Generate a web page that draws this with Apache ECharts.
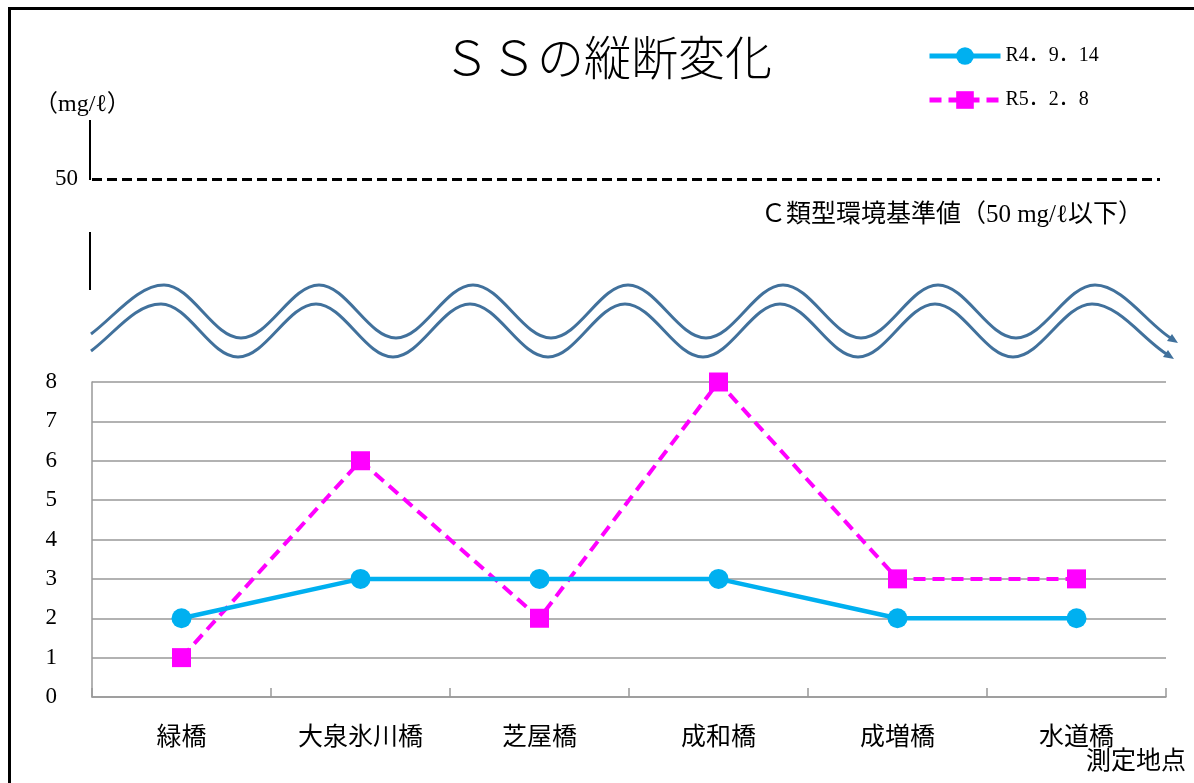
<!DOCTYPE html>
<html><head><meta charset="utf-8">
<script src="https://cdn.jsdelivr.net/npm/echarts@6/dist/echarts.min.js"></script>
<style>html,body{margin:0;padding:0;background:#fff}#c{width:1194px;height:783px}</style>
</head><body><div id="c"></div>
<script>
// ---- data ----
var categories = ['緑橋', '大泉氷川橋', '芝屋橋', '成和橋', '成増橋', '水道橋'];
var seriesNames = ['R4．9．14', 'R5．2．8'];
var valuesR4 = [2, 3, 3, 3, 2, 2];
var valuesR5 = [1, 6, 2, 8, 3, 3];
var yTicks = [0, 1, 2, 3, 4, 5, 6, 7, 8];
var standardValue = 50;
var standardLabel = 'Ｃ類型環境基準値（50 mg/ℓ以下）';
var unitLabel = '（mg/ℓ）';
var xAxisTitle = '測定地点';
var titleText = 'ＳＳの縦断変化';

var FONT = "'Liberation Serif', 'Noto Sans CJK JP', serif";
var chart = echarts.init(document.getElementById('c'), null, {renderer: 'canvas'});

// decorative wave (axis break symbol): extrema x positions
var waveX = [164, 241, 319, 396, 473, 551, 628, 706, 783, 861, 938, 1016, 1095];
var waveColor = '#41719C';
function seg(x1, y1, cpx1, cpy1, cpx2, cpy2, x2, y2) {
  return {type: 'bezierCurve', shape: {x1: x1, y1: y1, cpx1: cpx1, cpy1: cpy1, cpx2: cpx2, cpy2: cpy2, x2: x2, y2: y2},
          style: {stroke: waveColor, lineWidth: 3, fill: null}};
}
function waveSegs(dy, dx, startY, endX, endY) {
  var out = [];
  var first = [waveX[0] + dx, 285 + dy];
  out.push(seg(91, startY, 91 + 24, startY - 18, first[0] - 26, first[1], first[0], first[1]));
  var prev = first;
  for (var i = 1; i < waveX.length; i++) {
    var p = [waveX[i] + dx, (i % 2 === 0 ? 285 : 338) + dy];
    var w = p[0] - prev[0];
    out.push(seg(prev[0], prev[1], prev[0] + w * 0.36, prev[1], p[0] - w * 0.36, p[1], p[0], p[1]));
    prev = p;
  }
  var we = endX - prev[0];
  out.push(seg(prev[0], prev[1], prev[0] + we * 0.36, prev[1], endX - we * 0.3, endY - 12, endX, endY));
  return out;
}

var graphics = [
  {type: 'rect', shape: {x: 9.5, y: 8.5, width: 1200, height: 800}, style: {fill: null, stroke: '#000', lineWidth: 3}, z: 100},
  {type: 'text', x: 34, y: 105, style: {text: unitLabel, font: '24px ' + FONT, fill: '#000', verticalAlign: 'middle'}},
  {type: 'line', shape: {x1: 90, y1: 120, x2: 90, y2: 180}, style: {stroke: '#000', lineWidth: 2}},
  {type: 'line', shape: {x1: 90, y1: 232, x2: 90, y2: 290}, style: {stroke: '#000', lineWidth: 2}},
  {type: 'text', x: 1143, y: 215, style: {text: standardLabel, font: '25px ' + FONT, fill: '#000', align: 'right', verticalAlign: 'middle'}},
  {type: 'polygon', shape: {points: [[1178, 343], [1167, 341], [1172, 334]]}, style: {fill: waveColor}},
  {type: 'polygon', shape: {points: [[1174, 359], [1163, 357], [1168, 350]]}, style: {fill: waveColor}},
  {type: 'text', x: 1186, y: 762, style: {text: xAxisTitle, font: '25px ' + FONT, fill: '#000', align: 'right', verticalAlign: 'middle'}}
].concat(waveSegs(0, 0, 334, 1174, 340), waveSegs(19, -3, 351, 1170, 356));

var option = {
  animation: false,
  backgroundColor: '#fff',
  title: {text: titleText, left: 438, top: 34, textStyle: {fontFamily: FONT, fontSize: 47, fontWeight: 300, color: '#000'}},
  legend: {
    orient: 'vertical', left: 922, top: 41, itemWidth: 71, itemHeight: 22, itemGap: 24,
    textStyle: {fontFamily: FONT, fontSize: 20, color: '#000'},
    lineStyle: {width: 5},
    data: seriesNames
  },
  grid: [
    {left: 92, right: 28, top: 382, bottom: 86},
    {left: 92, right: 34, top: 120, height: 118}
  ],
  xAxis: [
    {type: 'category', gridIndex: 0, data: categories, boundaryGap: true,
     axisLine: {lineStyle: {color: '#999', width: 1.5}},
     axisTick: {show: true, inside: true, length: 9, lineStyle: {color: '#999', width: 1.5}},
     axisLabel: {fontFamily: FONT, fontSize: 25, color: '#000', margin: 29}},
    {type: 'category', gridIndex: 1, data: categories, show: false}
  ],
  yAxis: [
    {type: 'value', gridIndex: 0, min: yTicks[0], max: yTicks[yTicks.length - 1], interval: 1,
     axisLine: {show: true, lineStyle: {color: '#999', width: 1.5}},
     axisTick: {show: false},
     splitLine: {lineStyle: {color: '#999', width: 1.5}},
     axisLabel: {fontFamily: FONT, fontSize: 23, color: '#000', margin: 35}},
    {type: 'value', gridIndex: 1, min: 40, max: 60, interval: 10,
     axisLine: {show: false}, axisTick: {show: false}, splitLine: {show: false},
     axisLabel: {fontFamily: FONT, fontSize: 23, color: '#000', margin: 14,
       formatter: function (v) { return v === standardValue ? String(v) : ''; }}}
  ],
  series: [
    {name: seriesNames[0], type: 'line', xAxisIndex: 0, yAxisIndex: 0, data: valuesR4,
     symbol: 'circle', symbolSize: 20, color: '#00B0F0',
     lineStyle: {width: 4.5, color: '#00B0F0'}, itemStyle: {color: '#00B0F0'}, z: 3},
    {name: seriesNames[1], type: 'line', xAxisIndex: 0, yAxisIndex: 0, data: valuesR5,
     symbol: 'rect', symbolSize: 19, color: '#FF00FF',
     lineStyle: {width: 4, color: '#FF00FF', type: [12, 7]}, itemStyle: {color: '#FF00FF'}, z: 2},
    {name: 'std', type: 'line', xAxisIndex: 1, yAxisIndex: 1, data: [], silent: true,
     markLine: {symbol: ['none', 'none'], silent: true, label: {show: false},
       lineStyle: {color: '#000', width: 3, type: [10, 5]},
       data: [{yAxis: standardValue}]}}
  ],
  graphic: graphics
};
chart.setOption(option);
</script></body></html>
